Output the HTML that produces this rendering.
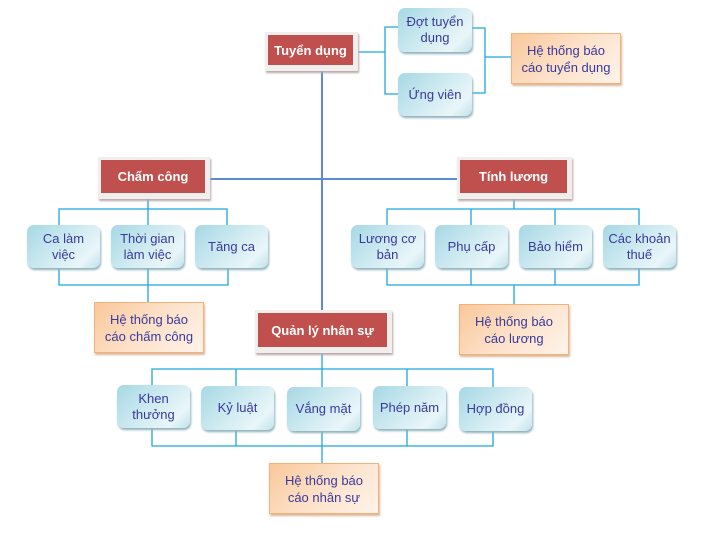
<!DOCTYPE html>
<html><head><meta charset="utf-8"><style>
body{margin:0;width:701px;height:536px;background:#fff;position:relative;overflow:hidden;font-family:"Liberation Sans","DejaVu Sans",sans-serif}
.r{position:absolute;background:#f1eeee;box-shadow:1px 2px 2px #b9a7a7}
.r div{position:absolute;left:3px;top:3px;right:5px;bottom:6px;background:#c0504d;color:#fff;font-weight:bold;font-size:13px;display:flex;align-items:center;justify-content:center}
.b{position:absolute;border-radius:7px;background:linear-gradient(135deg,#a6d8e4 0%,#d5edf3 55%,#e9f6f9 80%,#bfe2ea 100%);box-shadow:1px 2px 2px #8fb1bb;color:#3a3a9a;font-size:13px;display:flex;align-items:center;justify-content:center;text-align:center;line-height:16px}
.o{position:absolute;background:linear-gradient(135deg,#f9c89b 0%,#fde1c9 50%,#fef3ea 100%);border:1px solid #f4b17a;box-shadow:1px 2px 2px #d9b79a;color:#3a3a9a;font-size:13px;display:flex;align-items:center;justify-content:center;text-align:center;line-height:17px}
svg{position:absolute;left:0;top:0}
</style></head><body>
<svg width="701" height="536">
<g stroke="#1ea6de" stroke-width="1.3" fill="none">
<polyline points="358,52 385,52"/><polyline points="398,27 385,27 385,94 398,94"/>
<polyline points="472,28 485,28 485,93 472,93"/><line x1="485" y1="57" x2="511" y2="57"/>
<line x1="148" y1="199" x2="148" y2="209"/><polyline points="59,225 59,209 227,209 227,225"/><line x1="148" y1="209" x2="148" y2="225"/>
<polyline points="59,268 59,285 228,285 228,268"/><line x1="148" y1="268" x2="148" y2="302"/>
<line x1="514" y1="199" x2="514" y2="209"/><polyline points="387,225 387,209 639,209 639,225"/><line x1="471" y1="209" x2="471" y2="225"/><line x1="555" y1="209" x2="555" y2="225"/>
<polyline points="387,268 387,285 639,285 639,268"/><line x1="471" y1="268" x2="471" y2="285"/><line x1="555" y1="268" x2="555" y2="285"/><line x1="514" y1="285" x2="514" y2="304"/>
<line x1="322" y1="353" x2="322" y2="463"/><polyline points="152,385 152,369 493,369 493,387"/><line x1="236" y1="369" x2="236" y2="386"/><line x1="407" y1="369" x2="407" y2="386"/>
<polyline points="152,428 152,446 493,446 493,431"/><line x1="236" y1="430" x2="236" y2="446"/><line x1="407" y1="429" x2="407" y2="446"/>
</g>
<g stroke="#5b8bd2" stroke-width="2" fill="none">
<line x1="322" y1="71" x2="322" y2="310"/><line x1="210" y1="179" x2="458" y2="179"/>
</g>
</svg>
<div class="r" style="left:265px;top:32px;width:93px;height:39px"><div>Tuyển dụng</div></div>
<div class="b" style="left:398px;top:8px;width:74px;height:44px">Đợt tuyển<br>dụng</div>
<div class="b" style="left:398px;top:73px;width:74px;height:43px">Ứng viên</div>
<div class="o" style="left:511px;top:33px;width:108px;height:49px">Hệ thống báo<br>cáo tuyển dụng</div>
<div class="r" style="left:98px;top:157px;width:112px;height:42px"><div>Chấm công</div></div>
<div class="r" style="left:457px;top:157px;width:115px;height:42px"><div>Tính lương</div></div>
<div class="b" style="left:27px;top:225px;width:73px;height:43px">Ca làm<br>việc</div>
<div class="b" style="left:111px;top:225px;width:73px;height:43px">Thời gian<br>làm việc</div>
<div class="b" style="left:195px;top:225px;width:73px;height:43px">Tăng ca</div>
<div class="b" style="left:351px;top:225px;width:73px;height:43px">Lương cơ<br>bản</div>
<div class="b" style="left:435px;top:225px;width:73px;height:43px">Phụ cấp</div>
<div class="b" style="left:519px;top:225px;width:73px;height:43px">Bảo hiểm</div>
<div class="b" style="left:603px;top:225px;width:73px;height:43px">Các khoản<br>thuế</div>
<div class="o" style="left:94px;top:302px;width:108px;height:49px">Hệ thống báo<br>cáo chấm công</div>
<div class="o" style="left:459px;top:304px;width:108px;height:49px">Hệ thống báo<br>cáo lương</div>
<div class="r" style="left:255px;top:310px;width:137px;height:43px"><div>Quản lý nhân sự</div></div>
<div class="b" style="left:117px;top:385px;width:73px;height:43px">Khen<br>thưởng</div>
<div class="b" style="left:201px;top:386px;width:73px;height:44px">Kỷ luật</div>
<div class="b" style="left:287px;top:387px;width:73px;height:44px">Vắng mặt</div>
<div class="b" style="left:373px;top:386px;width:73px;height:43px">Phép năm</div>
<div class="b" style="left:459px;top:387px;width:73px;height:44px">Hợp đồng</div>
<div class="o" style="left:269px;top:463px;width:108px;height:49px">Hệ thống báo<br>cáo nhân sự</div>
</body></html>
